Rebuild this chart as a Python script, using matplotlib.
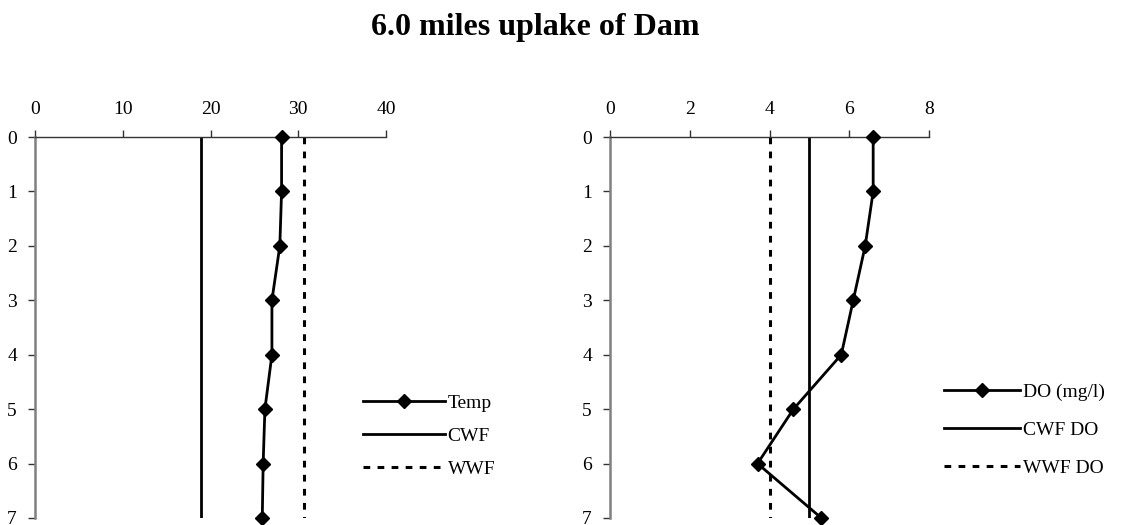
import matplotlib
matplotlib.use("Agg")
import matplotlib.pyplot as plt

plt.rcParams['font.family'] = ['Liberation Serif', 'DejaVu Serif']

# Depth (m) profile data
depth = [0, 1, 2, 3, 4, 5, 6, 7]
temp = [28.1, 28.1, 27.9, 27.0, 27.0, 26.2, 26.0, 25.9]
do_mgl = [6.6, 6.6, 6.4, 6.1, 5.8, 4.6, 3.7, 5.3]

# Criteria lines
cwf_temp = 18.9
wwf_temp = 30.6
cwf_do = 5.0
wwf_do = 4.0

temp_ticks = [0, 10, 20, 30, 40]
do_ticks = [0, 2, 4, 6, 8]
depth_ticks = [0, 1, 2, 3, 4, 5, 6, 7]

title = "6.0 miles uplake of Dam"
temp_labels = ["Temp", "CWF", "WWF"]
do_labels = ["DO (mg/l)", "CWF DO", "WWF DO"]

W, H = 1125, 525
fig = plt.figure(figsize=(W / 100, H / 100), dpi=100)
fig.patch.set_facecolor('white')

fig.text(535 / W, 1 - 28 / H, title, ha='center', va='center',
         fontsize=23, fontweight='bold')


def profile_axes(rect, values, cwf, wwf, xticks, labels, leg_anchor,
                 spacing, hlen):
    ax = fig.add_axes(rect)
    ax.plot(values, depth, color='black', lw=2, marker='D', ms=7.5,
            clip_on=False, zorder=5, label=labels[0])
    ax.plot([cwf, cwf], [depth[0], depth[-1]], color='black', lw=2,
            label=labels[1])
    ax.plot([wwf, wwf], [depth[0], depth[-1]], color='black', lw=2.2,
            linestyle=(0, (2.2, 2.4)), label=labels[2])
    ax.set_xlim(xticks[0], xticks[-1])
    ax.set_ylim(depth[-1], depth[0])
    ax.set_xticks(xticks)
    ax.set_yticks(depth_ticks)
    ax.xaxis.tick_top()
    for s in ('right', 'bottom'):
        ax.spines[s].set_visible(False)
    ax.spines['top'].set_color('#333333')
    ax.spines['top'].set_linewidth(1)
    ax.spines['left'].set_color('#808080')
    ax.spines['left'].set_linewidth(1.8)
    ax.tick_params(axis='x', direction='out', length=5, width=1,
                   color='#333333', pad=9, labelsize=14)
    ax.tick_params(axis='y', direction='out', length=5, width=1,
                   color='#333333', pad=8, labelsize=14)
    ax.legend(loc='center left', bbox_to_anchor=leg_anchor,
              bbox_transform=fig.transFigure, frameon=False, fontsize=14,
              handlelength=hlen, handletextpad=0.15, labelspacing=spacing,
              borderaxespad=0, borderpad=0)
    return ax


top = 1 - 137 / H
bottom = 1 - 518 / H
profile_axes([35 / W, bottom, (386 - 35) / W, top - bottom], temp,
             cwf_temp, wwf_temp, temp_ticks, temp_labels,
             (363 / W, 1 - 436 / H), 0.8, 4.2)
profile_axes([610 / W, bottom, (929 - 610) / W, top - bottom], do_mgl,
             cwf_do, wwf_do, do_ticks, do_labels,
             (944 / W, 1 - 430 / H), 1.06, 3.9)

fig.savefig("out.png", dpi=100, facecolor='white')
